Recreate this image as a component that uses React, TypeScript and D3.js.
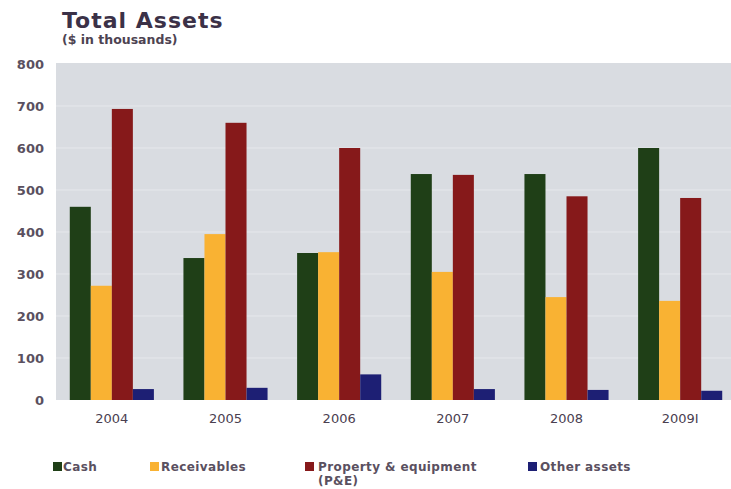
import React from "react";
import * as d3 from "d3";

const years = ["2004", "2005", "2006", "2007", "2008", "2009I"];
const seriesNames = ["Cash", "Receivables", "Property & equipment", "Other assets"];
const cash = [460, 338, 350, 538, 538, 600];
const receivables = [272, 395, 352, 305, 245, 236];
const propertyEquipment = [693, 660, 600, 536, 485, 481];
const otherAssets = [26, 29, 61, 26, 24, 22];
const yTicks = [0, 100, 200, 300, 400, 500, 600, 700, 800];
const colors = ["#1f3f17", "#f9b233", "#86191a", "#1d1f74"];

const W = 731;
const H = 489;
const plotLeft = 56;
const plotRight = 731;
const plotTop = 63;
const plotBottom = 400;

export default function App() {
  const series = [cash, receivables, propertyEquipment, otherAssets];
  const y = d3.scaleLinear().domain([0, 800]).range([plotBottom, 64]);
  const x0 = d3.scaleBand<string>().domain(years).range([55, 737]).paddingInner(0.26).paddingOuter(0.13);
  const x1 = d3.scaleBand<number>().domain([0, 1, 2, 3]).range([0, x0.bandwidth()]);
  const font = "'DejaVu Sans', Verdana, sans-serif";
  const legendSq = [53, 150, 305, 528];
  const legendTx = [63, 161, 318, 540];

  return (
    <svg width={W} height={H} style={{ position: "absolute", left: 0, top: 0, background: "#fff" }} fontFamily={font}>
      <text x={62} y={28} fontSize={22} fontWeight="bold" fill="#3b3147" letterSpacing={1}>Total Assets</text>
      <text x={62} y={44} fontSize={12.5} fontWeight="bold" fill="#4d4352">($ in thousands)</text>
      <rect x={plotLeft} y={plotTop} width={plotRight - plotLeft} height={plotBottom - plotTop} fill="#d9dce1" />
      {yTicks.map((t) => (
        <g key={t}>
          {t > 0 && t < 800 && (
            <line x1={plotLeft} x2={plotRight} y1={y(t)} y2={y(t)} stroke="#e6e8ec" strokeWidth={1} />
          )}
          <text x={44} y={y(t) + 5} textAnchor="end" fontSize={13} fontWeight="bold" fill="#5a5060">{t}</text>
        </g>
      ))}
      {years.map((yr, i) => (
        <g key={yr} transform={`translate(${x0(yr)},0)`}>
          {series.map((s, j) => (
            <rect
              key={j}
              x={x1(j)}
              y={y(s[i])}
              width={x1.bandwidth()}
              height={plotBottom - y(s[i])}
              fill={colors[j]}
            />
          ))}
          <text x={x0.bandwidth() / 2} y={423} textAnchor="middle" fontSize={13} fill="#4a4050">{yr}</text>
        </g>
      ))}
      {seriesNames.map((n, j) => (
        <g key={n}>
          <rect x={legendSq[j]} y={462} width={9} height={9} fill={colors[j]} />
          <text x={legendTx[j]} y={471} fontSize={12} fontWeight="bold" letterSpacing={0.4} fill="#5a5060">{n}</text>
          {j === 2 && <text x={legendTx[j]} y={485} fontSize={12} fontWeight="bold" letterSpacing={0.4} fill="#5a5060">(P&amp;E)</text>}
        </g>
      ))}
    </svg>
  );
}
